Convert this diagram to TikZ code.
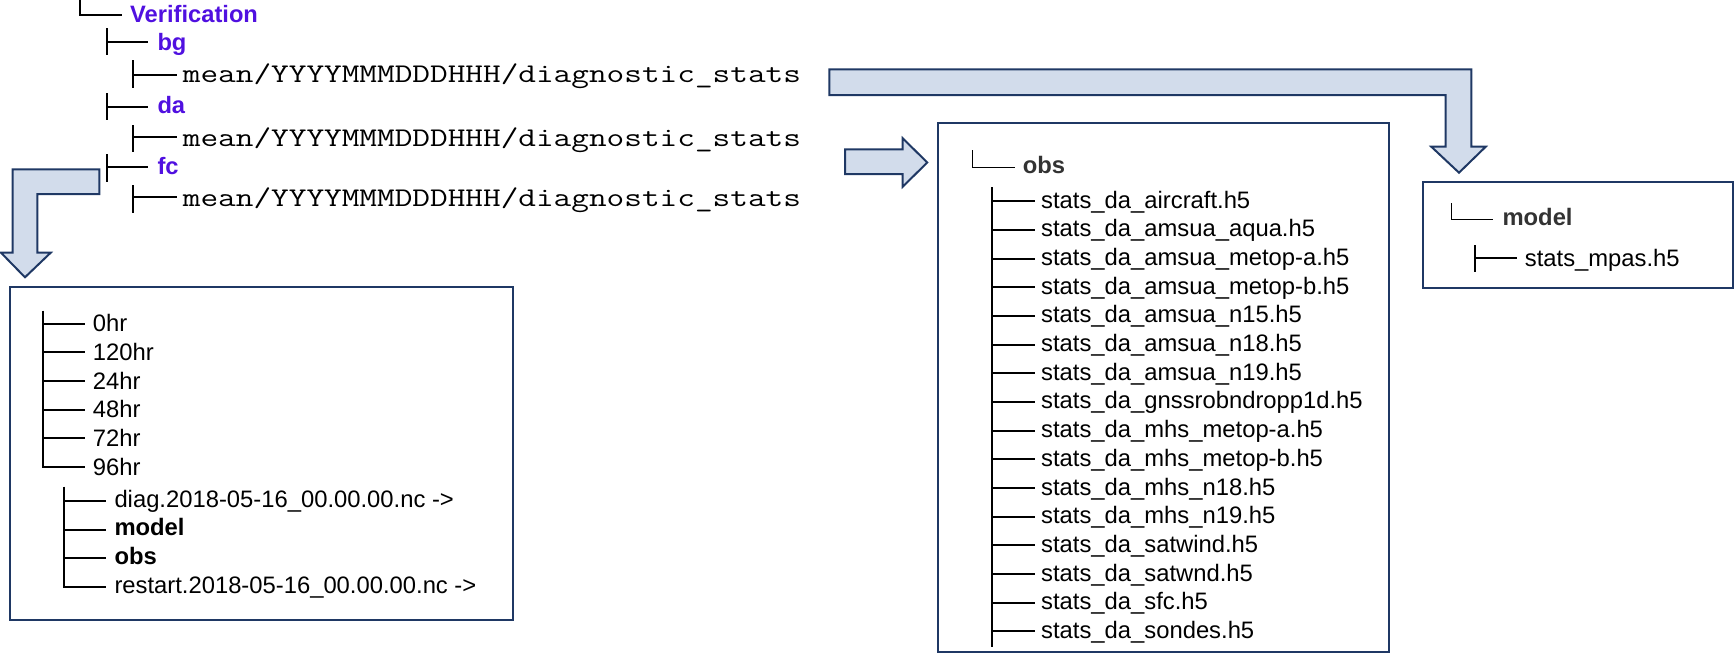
\documentclass[tikz,border=0pt]{standalone}
\usepackage{fontspec}
\setmainfont{Liberation Sans}
\definecolor{navy}{HTML}{1F3864}
\definecolor{arrowfill}{HTML}{D2DCEB}
\definecolor{dirblue}{HTML}{5010E0}
\definecolor{headgray}{HTML}{333333}
% typewriter path, widened to the column width of the listing
\newcommand{\pathline}[1]{\scalebox{1.27}[1]{\fontsize{27}{30}\selectfont\ttfamily #1}}
\tikzset{
  txt/.style={anchor=base west, inner sep=0pt, font=\fontsize{23.8}{28}\selectfont},
  dirtxt/.style={txt, font=\fontsize{23.7}{28}\selectfont\bfseries, text=dirblue},
  boldtxt/.style={txt, font=\fontsize{23.8}{28}\selectfont\bfseries},
  headtxt/.style={boldtxt, text=headgray},
  pathtxt/.style={anchor=base west, inner sep=0pt},
  treeline/.style={draw=black, line width=2pt},
  thinline/.style={draw=black, line width=1.5pt},
  panel/.style={draw=navy, line width=2.2pt},
  blockarrow/.style={draw=navy, fill=arrowfill, line width=2pt, line join=miter}
}
\begin{document}
\begin{tikzpicture}[x=1pt, y=-1pt]
\useasboundingbox (0,0) rectangle (1734,653);

% ---------- top directory tree ----------
\node[dirtxt] (verif) at (130,22.7) {Verification};
\draw[thinline] (80,-1) -- (80,15) -- (122,15);

\node[dirtxt] (bg) at (157.3,50) {bg};
\draw[treeline] (106.7,28.3) -- (106.7,55) (106.7,41.7) -- (148.3,41.7);
\node[pathtxt] (meanbg) at (182.7,82.5) {\pathline{mean/YYYYMMMDDDHHH/diagnostic\_stats}};
\draw[treeline] (133.3,60) -- (133.3,88.3) (133.3,75) -- (176.7,75);

\node[dirtxt] (da) at (157.3,113.3) {da};
\draw[treeline] (106.7,93.3) -- (106.7,120) (106.7,106.7) -- (148.3,106.7);
\node[pathtxt] (meanda) at (182.7,146) {\pathline{mean/YYYYMMMDDDHHH/diagnostic\_stats}};
\draw[treeline] (133.3,125) -- (133.3,151.7) (133.3,136.7) -- (176.7,136.7);

\node[dirtxt] (fc) at (157.3,174) {fc};
\draw[treeline] (106.7,154) -- (106.7,181.7) (106.7,166.7) -- (148.3,166.7);
\node[pathtxt] (meanfc) at (182.7,206) {\pathline{mean/YYYYMMMDDDHHH/diagnostic\_stats}};
\draw[treeline] (133.3,185) -- (133.3,213.3) (133.3,196.7) -- (176.7,196.7);

% ---------- block arrows ----------
\draw[blockarrow] (829.3,69.3) -- (1471.3,69.3) -- (1471.3,146.7) -- (1485.7,146.7)
  -- (1459,172.7) -- (1431.3,146.7) -- (1445.7,146.7) -- (1445.7,95) -- (829.3,95) -- cycle;
\draw[blockarrow] (845,149.3) -- (902.7,149.3) -- (902.7,138.3) -- (927.3,162.5)
  -- (902.7,186.7) -- (902.7,174) -- (845,174) -- cycle;
\draw[blockarrow] (99.3,169.3) -- (12.7,169.3) -- (12.7,252.7) -- (1,252.7)
  -- (25,277.3) -- (50.7,252.7) -- (37.3,252.7) -- (37.3,194) -- (99.3,194) -- cycle;

% ---------- forecast lead times panel ----------
\draw[panel] (10,286.7) rectangle (513.3,620);
\draw[treeline] (42.7,310.7) -- (42.7,467.3) -- (85,467.3);
\foreach \lbl [count=\i from 0] in {0hr,120hr,24hr,48hr,72hr,96hr} {
  \pgfmathsetmacro{\yb}{331.7+28.67*\i}
  \node[txt] (lead-\i) at (92.7,\yb) {\lbl};
  \draw[treeline] (42.7,\yb-8) -- (85,\yb-8);
}
\draw[treeline] (64.3,486.7) -- (64.3,586.5) -- (106,586.5);
\node[txt] (diagf) at (114.3,507) {diag.2018-05-16\_00.00.00.nc ->};
\draw[treeline] (64.3,501) -- (106,501);
\node[boldtxt] (modeldir) at (114.3,535.7) {model};
\draw[treeline] (64.3,529.5) -- (106,529.5);
\node[boldtxt] (obsdir) at (114.3,564.3) {obs};
\draw[treeline] (64.3,558) -- (106,558);
\node[txt] (restartf) at (114.3,593) {restart.2018-05-16\_00.00.00.nc ->};

% ---------- obs panel ----------
\draw[panel] (937.7,123.3) rectangle (1389,651.7);
\node[headtxt] (obshead) at (1022.7,173.3) {obs};
\draw[thinline] (972.3,150) -- (972.3,167.3) -- (1015,167.3);
\draw[treeline] (991.7,187.3) -- (991.7,646.7);
\foreach \lbl [count=\i from 0] in {aircraft,amsua\_aqua,amsua\_metop-a,amsua\_metop-b,
    amsua\_n15,amsua\_n18,amsua\_n19,gnssrobndropp1d,mhs\_metop-a,mhs\_metop-b,
    mhs\_n18,mhs\_n19,satwind,satwnd,sfc,sondes} {
  \pgfmathsetmacro{\yb}{208.3+28.67*\i}
  \node[txt] (obsfile-\i) at (1041,\yb) {stats\_da\_\lbl.h5};
  \draw[treeline] (991.7,\yb-7) -- (1035,\yb-7);
}

% ---------- model panel ----------
\draw[panel] (1423.3,181.7) rectangle (1732.8,288.3);
\node[headtxt] (modelhead) at (1502.3,225.7) {model};
\draw[thinline] (1451.3,203.3) -- (1451.3,219.3) -- (1493.3,219.3);
\node[txt] (mpasfile) at (1524.7,266) {stats\_mpas.h5};
\draw[treeline] (1474.7,245) -- (1474.7,271.7) (1474.7,258.3) -- (1517.3,258.3);
\end{tikzpicture}
\end{document}
